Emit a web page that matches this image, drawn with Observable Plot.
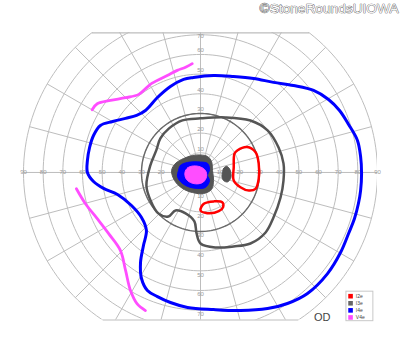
<!DOCTYPE html>
<html>
<head>
<meta charset="utf-8">
<script src="https://cdn.jsdelivr.net/npm/d3@7"></script>
<script src="https://cdn.jsdelivr.net/npm/@observablehq/plot@0.6"></script>
<style>
  html, body { margin: 0; padding: 0; background: #fff; }
  #chart { width: 400px; height: 352px; }
</style>
</head>
<body>
<div id="chart"></div>
<script>
// ---------- texts ----------
const copyrightText = "©StoneRoundsUIOWA";
const eyeLabel = "OD";

// ---------- grid definition (degrees of eccentricity) ----------
const ringDegrees = [10, 20, 30, 40, 50, 60, 70, 80, 90];
const meridianAngles = [0, 15, 30, 45, 60, 75, 90, 105, 120, 135, 150, 165, 180, 195, 210, 225, 240, 255, 270, 285, 300, 315, 330, 345];
const horizontalTickLabels = [10, 20, 30, 40, 50, 60, 70, 80, 90];
const verticalTickLabels = [10, 20, 30, 40, 50, 60, 70];
const chartTop = 71;     // superior limit of the chart (deg)
const chartBottom = -75; // inferior limit of the chart (deg)
const darkRing = {r: 30, from: 0, to: 360}; // emphasised 30° ring (deg, angles)

// ---------- legend ----------
const legendNames = ["I2e", "I3e", "I4e", "V4e"];
const legendColors = ["#ff0000", "#666666", "#0000ff", "#ff4dff"];

// ---------- isopters, [x deg, y deg] ----------
const I4e_outer = [[-3.6,48.3],[6.6,49.3],[16.8,48.8],[27.0,47.8],[37.1,45.8],[47.3,44.2],[57.5,41.7],[65.1,37.1],[70.7,31.5],[75.3,24.4],[79.8,16.3],[81.4,8.1],[81.9,-0.5],[81.4,-9.2],[80.3,-15.8],[78.3,-23.4],[75.3,-31.0],[71.2,-40.7],[64.6,-51.4],[54.4,-61.5],[44.2,-66.6],[34.1,-69.2],[20.3,-70.2],[6.6,-69.7],[-6.6,-68.6],[-15.3,-66.1],[-21.9,-63.1],[-27.0,-60.0],[-30.0,-53.9],[-30.5,-45.8],[-29.0,-37.1],[-27.5,-29.5],[-30.0,-22.9],[-35.1,-16.8],[-42.2,-11.2],[-49.3,-8.1],[-54.4,-4.6],[-57.5,0],[-57.5,6.1],[-56.4,12.7],[-54.4,18.8],[-50.9,23.9],[-44.7,25.9],[-38.1,27.5],[-32.5,29.0],[-28.0,31.5],[-21.9,38.1],[-15.3,43.7],[-8.6,47.3]];
const I4e_center = [[-11.2,1.0],[-10.2,3.6],[-6.6,5.1],[0,5.3],[3.6,4.6],[4.6,1.5],[3.6,-1.5],[4.6,-4.1],[2.5,-7.6],[-1.5,-8.1],[-6.6,-7.1],[-10.2,-4.6],[-11.7,-2.0]];
const I3e_outer = [[0,27.5],[12.7,28.0],[25.4,26.4],[34.1,21.4],[39.7,12.7],[42.2,4.6],[42.2,-4.1],[40.7,-12.7],[37.1,-22.9],[33.1,-30.5],[25.4,-36.1],[16.8,-37.6],[7.6,-38.1],[0,-36.1],[-2.0,-31.0],[-3.1,-24.9],[-7.6,-20.8],[-12.7,-19.3],[-16.3,-22.4],[-21.4,-20.8],[-25.4,-14.2],[-27.5,-6.6],[-25.5,3.6],[-22.5,11.2],[-20.4,17.3],[-16.0,22.4],[-9.2,26.5]];
const I3e_center = [[-14.7,1.0],[-12.7,4.6],[-8.6,7.1],[-4.1,8.6],[0,8.9],[3.6,8.1],[5.6,5.6],[6.1,1.0],[6.6,-4.1],[5.6,-8.6],[1.5,-10.7],[-4.1,-10.2],[-9.2,-8.1],[-13.2,-4.1]];
const I3e_island = [[11.2,0],[11.7,2.0],[13.2,3.1],[14.7,2.0],[15.5,-0.5],[15.3,-3.1],[13.7,-4.8],[11.7,-4.1],[10.9,-2.0]];
const I2e_temporal = [[18.7,11.2],[23.7,12.9],[28.0,10.3],[29.6,4.4],[29.6,-3.2],[28.0,-8.3],[24.6,-9.2],[20.3,-7.5],[16.9,-4.1],[16.9,2.7],[17.3,9.7]];
const I2e_inferior = [[0,-19.3],[1.7,-15.9],[6.8,-14.7],[11.0,-15.1],[11.5,-17.6],[9.3,-19.7],[3.4,-20.7]];
const V4e_center = [[-7.9,0],[-6.6,2.3],[-3.6,3.3],[0,2.8],[2.5,1.0],[3.1,-2.0],[1.5,-4.8],[-1.5,-5.8],[-5.1,-5.1],[-7.4,-3.1]];
const V4e_superior = [[-55.1,31.9],[-52.5,34.9],[-45.8,36.6],[-38.1,38.0],[-31.4,39.7],[-27.1,43.4],[-24.6,45.4],[-16.9,49.3],[-11.8,51.9],[-7.6,53.5],[-4.2,55.3]];
const V4e_inferior = [[-63.1,-8.3],[-58.5,-15.9],[-52.5,-23.5],[-46.6,-31.2],[-40.7,-39.7],[-38.1,-49.8],[-35.6,-60.0],[-32.2,-66.8],[-28.0,-70.2]];

// ---------- derived tables for the grid ----------
const rad = Math.PI / 180;
const ringPts = [];
for (const r of ringDegrees) {
  for (let a = 0; a <= 360; a += 2) ringPts.push({r, x: r * Math.cos(a * rad), y: r * Math.sin(a * rad)});
}
const darkRingPts = [];
for (let a = darkRing.from; a <= darkRing.to; a += 2) darkRingPts.push({x: darkRing.r * Math.cos(a * rad), y: darkRing.r * Math.sin(a * rad)});
const meridians = meridianAngles.map(a => ({x2: 90 * Math.cos(a * rad), y2: 90 * Math.sin(a * rad)}));
const outerR = ringDegrees[ringDegrees.length - 1];
const limits = [chartTop, chartBottom].map(y => ({y, half: Math.sqrt(outerR * outerR - y * y)}));
const hLabels = horizontalTickLabels.flatMap(v => [-v, v]);
const legendRows = legendNames.map((n, i) => ({n, c: legendColors[i], y: -62.9 - i * 3.6}));

const P = d => ({x: d[0], y: d[1]});
const gridColor = "#bdbdbd";
const labelColor = "#9a9a9a";

const chart = Plot.plot({
  width: 400,
  height: 352,
  marginLeft: 23,
  marginRight: 23,
  marginTop: 32.3,
  marginBottom: 32.5,
  x: {domain: [-90, 90], axis: null},
  y: {domain: [chartBottom, chartTop], axis: null},
  style: {background: "#fff", fontFamily: "Liberation Sans, Arial, sans-serif", overflow: "visible"},
  marks: [
    // grid
    Plot.line(ringPts, {x: "x", y: "y", z: "r", stroke: gridColor, strokeWidth: 1, clip: "frame"}),
    Plot.link(meridians, {x1: 0, y1: 0, x2: "x2", y2: "y2", stroke: gridColor, strokeWidth: 1, clip: "frame"}),
    Plot.link(limits, {x1: d => -d.half, x2: d => d.half, y1: "y", y2: "y", stroke: gridColor, strokeWidth: 1.2}),
    Plot.line(darkRingPts, {x: "x", y: "y", stroke: "#6a6a6a", strokeWidth: 1.4}),
    // tick labels
    Plot.text(hLabels, {x: d => d, y: 0, text: d => String(Math.abs(d)), fill: labelColor, fontSize: 6}),
    Plot.text(verticalTickLabels.filter(v => v < 70), {x: 0, y: d => d, text: d => String(d), fill: labelColor, fontSize: 6, dy: -4}),
    Plot.text(verticalTickLabels.filter(v => v >= 70), {x: 0, y: d => d, text: d => String(d), fill: labelColor, fontSize: 6, dy: 1}),
    Plot.text(verticalTickLabels, {x: 0, y: d => -d, text: d => String(d), fill: labelColor, fontSize: 6, dy: 4}),
    // filled central isopters
    Plot.line(I3e_center.map(P), {x: "x", y: "y", curve: "catmull-rom-closed", fill: "#555", stroke: "#555", strokeWidth: 1}),
    Plot.line(I3e_island.map(P), {x: "x", y: "y", curve: "catmull-rom-closed", fill: "#555", stroke: "#555", strokeWidth: 1}),
    Plot.line(I4e_center.map(P), {x: "x", y: "y", curve: "catmull-rom-closed", fill: "#0000ff", stroke: "#0000ff", strokeWidth: 1}),
    Plot.line(V4e_center.map(P), {x: "x", y: "y", curve: "catmull-rom-closed", fill: "#ff4dff", stroke: "#ff4dff", strokeWidth: 1}),
    // outline isopters
    Plot.line(I3e_outer.map(P), {x: "x", y: "y", curve: "catmull-rom-closed", stroke: "#555", strokeWidth: 2.5}),
    Plot.line(I2e_temporal.map(P), {x: "x", y: "y", curve: "catmull-rom-closed", stroke: "#ff0000", strokeWidth: 2.5}),
    Plot.line(I2e_inferior.map(P), {x: "x", y: "y", curve: "catmull-rom-closed", stroke: "#ff0000", strokeWidth: 2.5}),
    Plot.line(I4e_outer.map(P), {x: "x", y: "y", curve: "catmull-rom-closed", stroke: "#0000ff", strokeWidth: 3}),
    Plot.line(V4e_superior.map(P), {x: "x", y: "y", curve: "catmull-rom", stroke: "#ff4dff", strokeWidth: 2.8}),
    Plot.line(V4e_inferior.map(P), {x: "x", y: "y", curve: "catmull-rom", stroke: "#ff4dff", strokeWidth: 2.8}),
    // eye label
    Plot.text([eyeLabel], {x: 61.9, y: -73.6, text: d => d, fill: "#444", fontSize: 11}),
    // legend
    Plot.rect([0], {x1: 74.2, x2: 87.9, y1: -60.6, y2: -75.6, fill: "#fff", stroke: "#c8c8c8", strokeWidth: 1}),
    Plot.dot(legendRows, {x: 76.3, y: "y", symbol: "square", r: 2.6, fill: "c", stroke: "none"}),
    Plot.text(legendRows, {x: 79.0, y: "y", text: "n", fill: "#444", fontSize: 5, textAnchor: "start"}),
    // copyright
    Plot.text([copyrightText], {x: 100.7, y: 83.2, text: d => d, fill: "#f4f4f4", stroke: "#444", strokeWidth: 0.7, fontSize: 13.7, textAnchor: "end"})
  ]
});
document.getElementById("chart").appendChild(chart);
</script>
</body>
</html>
